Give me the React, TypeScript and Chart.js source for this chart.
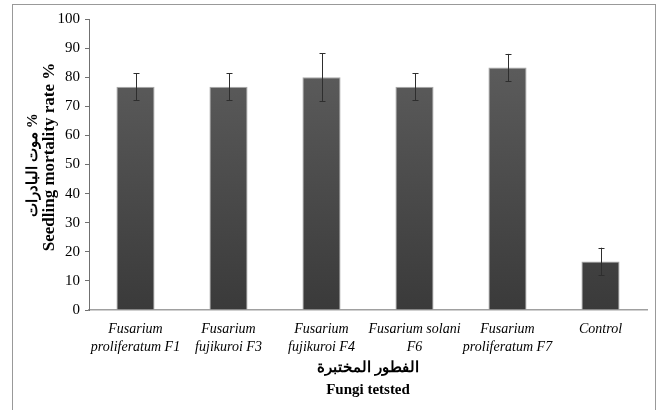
import React, { useEffect, useRef } from "react";
import { Chart, registerables } from "chart.js";

Chart.register(...registerables);

const categories: string[][] = [
  ["Fusarium", "proliferatum F1"],
  ["Fusarium", "fujikuroi F3"],
  ["Fusarium", "fujikuroi F4"],
  ["Fusarium solani", "F6"],
  ["Fusarium", "proliferatum F7"],
  ["Control"],
];
const mortality: number[] = [76.7, 76.7, 80.0, 76.7, 83.3, 16.7];
const errors: number[] = [4.7, 4.7, 8.2, 4.7, 4.7, 4.7];
const yTitleArabic = "موت البادرات %";
const yTitleEnglish = "Seedling mortality rate %";
const xTitleArabic = "الفطور المختبرة";
const xTitleEnglish = "Fungi tetsted";

const SERIF = "'Liberation Serif', 'Times New Roman', serif";

const errorBarPlugin = {
  id: "errorBars",
  afterDatasetsDraw(chart: any) {
    const ctx = chart.ctx;
    const meta = chart.getDatasetMeta(0);
    const y = chart.scales.y;
    ctx.save();
    ctx.strokeStyle = "#2e2e2e";
    ctx.lineWidth = 1;
    meta.data.forEach((bar: any, i: number) => {
      const v = mortality[i];
      const e = errors[i];
      const x = Math.round(bar.x) + 0.5;
      const yTop = y.getPixelForValue(v + e);
      const yBot = y.getPixelForValue(v - e);
      ctx.beginPath();
      ctx.moveTo(x, yTop);
      ctx.lineTo(x, yBot);
      ctx.moveTo(x - 3, Math.round(yTop) + 0.5);
      ctx.lineTo(x + 3, Math.round(yTop) + 0.5);
      ctx.moveTo(x - 3, Math.round(yBot) + 0.5);
      ctx.lineTo(x + 3, Math.round(yBot) + 0.5);
      ctx.stroke();
    });
    ctx.restore();
  },
};

const titlesPlugin = {
  id: "titles",
  afterDraw(chart: any) {
    const ctx = chart.ctx;
    const area = chart.chartArea;
    ctx.save();
    ctx.fillStyle = "#000";
    ctx.textAlign = "center";
    ctx.textBaseline = "middle";
    ctx.font = `bold 15px ${SERIF}`;
    const cx = (area.left + area.right) / 2;
    ctx.fillText(xTitleArabic, cx, 363);
    ctx.fillText(xTitleEnglish, cx, 385);
    // y titles
    ctx.save();
    ctx.translate(20, 160);
    ctx.rotate(-Math.PI / 2);
    ctx.fillText(yTitleArabic, 0, 0);
    ctx.restore();
    ctx.save();
    ctx.font = `bold 17px ${SERIF}`;
    ctx.translate(37, 152);
    ctx.rotate(-Math.PI / 2);
    ctx.fillText(yTitleEnglish, 0, 0);
    ctx.restore();
    ctx.restore();
  },
};

export default function App() {
  const ref = useRef<HTMLCanvasElement>(null);
  useEffect(() => {
    const canvas = ref.current!;
    const chart = new Chart(canvas, {
      type: "bar",
      data: {
        labels: categories,
        datasets: [
          {
            data: mortality,
            backgroundColor: (c: any) => {
              const { chart } = c;
              const area = chart.chartArea;
              if (!area) return "#4a4a4a";
              const g = chart.ctx.createLinearGradient(0, area.top, 0, area.bottom);
              g.addColorStop(0, "#626262");
              g.addColorStop(1, "#3a3a3a");
              return g;
            },
            borderColor: "#a8a8a8",
            borderWidth: 1,
            barPercentage: 0.5,
            categoryPercentage: 0.82,
          },
        ],
      },
      options: {
        animation: false,
        responsive: false,
        layout: { padding: { left: 0, right: 8, top: 13, bottom: 0 } },
        plugins: {
          legend: { display: false },
          tooltip: { enabled: false },
          title: { display: false },
        },
        scales: {
          x: {
            grid: { display: false, drawTicks: false },
            border: { display: true, color: "#a0a0a0", width: 1.5 },
            ticks: {
              color: "#000",
              font: { family: SERIF, size: 14, style: "italic", lineHeight: 1.25 },
              padding: 11,
              maxRotation: 0,
              autoSkip: false,
            },
            afterFit: (s: any) => {
              s.height = 100;
            },
          },
          y: {
            min: 0,
            max: 100,
            grid: {
              drawOnChartArea: false,
              drawTicks: true,
              tickLength: 4,
              color: "#707070",
            },
            border: { display: true, color: "#707070", width: 1 },
            ticks: {
              stepSize: 10,
              color: "#000",
              font: { family: SERIF, size: 15 },
              padding: 5,
            },
            afterFit: (s: any) => {
              s.width = 76;
            },
          },
        },
      },
      plugins: [errorBarPlugin, titlesPlugin],
    } as any);
    return () => chart.destroy();
  }, []);
  return (
    <div
      style={{
        position: "absolute",
        left: 12,
        top: 4,
        width: 642,
        height: 420,
        border: "1px solid #999",
        background: "#fff",
      }}
    >
      <canvas ref={ref} width={642} height={405} style={{ display: "block" }} />
    </div>
  );
}
